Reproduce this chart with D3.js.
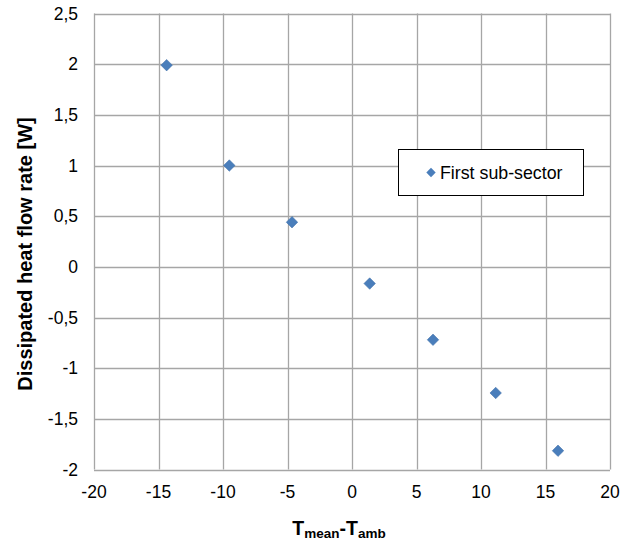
<!DOCTYPE html>
<html><head><meta charset="utf-8">
<script src="https://cdn.jsdelivr.net/npm/d3@7"></script>
<style>body{margin:0;background:#fff;} text{font-family:"Liberation Sans",Arial,sans-serif;}</style>
</head><body>
<svg id="c" width="620" height="548"></svg>
<script>
const xValues = [-14.37, -9.51, -4.65, 1.37, 6.28, 11.14, 15.97];
const yValues = [1.99, 1.0, 0.44, -0.165, -0.72, -1.245, -1.815];
const xTicks = [-20, -15, -10, -5, 0, 5, 10, 15, 20];
const yTicks = [-2, -1.5, -1, -0.5, 0, 0.5, 1, 1.5, 2, 2.5];
const seriesName = "First sub-sector";

const svg = d3.select("#c");
const L = 94, R = 610, T = 13.5, B = 469.5;
const x = d3.scaleLinear().domain([-20, 20]).range([L, R]);
const y = d3.scaleLinear().domain([-2, 2.5]).range([B, T]);
const fmt = d => String(d).replace(".", ",");
const grid = "#a6a6a6";

// gridlines
svg.append("g").selectAll("line").data(xTicks).join("line")
  .attr("x1", d => Math.round(x(d)) + 0.5).attr("x2", d => Math.round(x(d)) + 0.5)
  .attr("y1", T).attr("y2", B).attr("stroke", grid).attr("stroke-width", 1.3);
svg.append("g").selectAll("line").data(yTicks).join("line")
  .attr("y1", d => Math.round(y(d)) + 0.5).attr("y2", d => Math.round(y(d)) + 0.5)
  .attr("x1", L).attr("x2", R).attr("stroke", grid).attr("stroke-width", 1.3);

// tick labels
svg.append("g").selectAll("text").data(yTicks).join("text")
  .attr("x", 78).attr("y", d => y(d) + 6.3).attr("text-anchor", "end")
  .attr("font-size", 17.5).attr("fill", "#000").text(fmt);
svg.append("g").selectAll("text").data(xTicks).join("text")
  .attr("x", d => x(d)).attr("y", 498).attr("text-anchor", "middle")
  .attr("font-size", 17.5).attr("fill", "#000").text(fmt);

// points
const diamond = d3.symbol().type(d3.symbolSquare).size(66);
svg.append("g").selectAll("path").data(xValues.map((v, i) => [v, yValues[i]])).join("path")
  .attr("d", diamond)
  .attr("transform", d => `translate(${x(d[0])},${y(d[1])}) rotate(45)`)
  .attr("fill", "#4a7ebb").attr("stroke", "#3f6fa8").attr("stroke-width", 0.5);

// legend
svg.append("rect").attr("x", 398.5).attr("y", 149.5).attr("width", 185).attr("height", 46)
  .attr("fill", "#fff").attr("stroke", "#000").attr("stroke-width", 1);
svg.append("path").attr("d", d3.symbol().type(d3.symbolSquare).size(44))
  .attr("transform", "translate(431,172.5) rotate(45)").attr("fill", "#4a7ebb");
svg.append("text").attr("x", 440).attr("y", 179).attr("font-size", 17.8).text(seriesName);

// axis titles
svg.append("text").attr("transform", "translate(31.5,254) rotate(-90)")
  .attr("text-anchor", "middle").attr("font-size", 20).attr("font-weight", "bold")
  .text("Dissipated heat flow rate [W]");
const xt = svg.append("text").attr("x", 339).attr("y", 535).attr("text-anchor", "middle")
  .attr("font-size", 19.5).attr("font-weight", "bold");
xt.append("tspan").text("T");
xt.append("tspan").attr("font-size", 13.5).attr("dy", 3).text("mean");
xt.append("tspan").attr("dy", -3).text("-T");
xt.append("tspan").attr("font-size", 13.5).attr("dy", 3).text("amb");
</script>
</body></html>
